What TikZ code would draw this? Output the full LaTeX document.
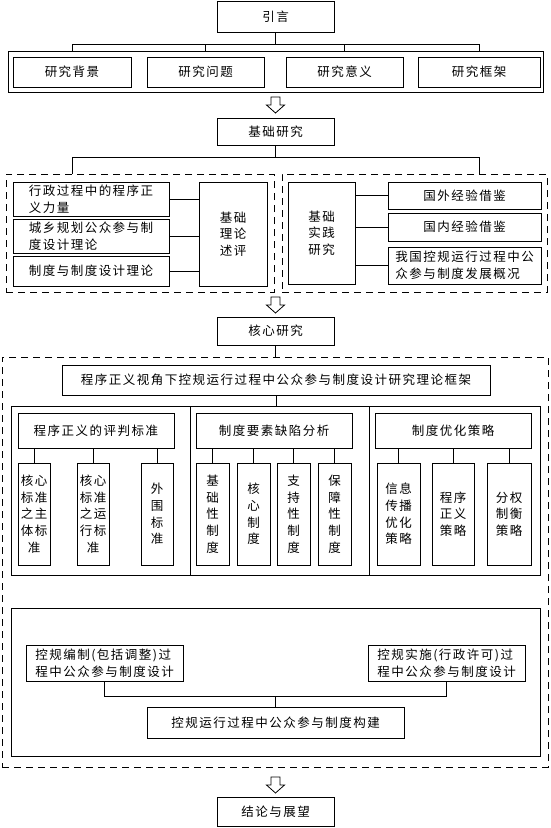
\documentclass[tikz,border=0pt]{standalone}
\usepackage{fontspec}
\usepackage{tikz}
\newfontfamily\cjkfont[LetterSpace=12]{Noto Sans CJK SC}

\begin{document}
\begin{tikzpicture}[x=1pt, y=-1pt,
  box/.style={draw, line width=0.8pt, inner sep=0pt, align=center, font=\cjkfont\fontsize{12.5}{16.7}\selectfont},
  lbox/.style={box, align=left},
  sz/.style 2 args={minimum width=#1pt, minimum height=#2pt},
  dbox/.style={draw, dash pattern=on 7pt off 5pt, line width=0.8pt, inner sep=0pt},
  link/.style={line width=0.8pt}]
\useasboundingbox (0,0) rectangle (550,828);
\node[box, sz={117}{31}] (intro) at (275.5,16.5) {引言};
\node[box, sz={535}{41}] (row) at (275.5,71.5) {};
\node[box, sz={118}{30}] (bkg) at (72,72) {研究背景};
\node[box, sz={117}{30}] (question) at (205.5,72) {研究问题};
\node[box, sz={117}{30}] (meaning) at (344.5,72) {研究意义};
\node[box, sz={122}{30}] (outline) at (479,72) {研究框架};
\coordinate (bus1) at (275.5,44);
\draw[link] (intro.south) -- (bus1);
\draw[link] (bkg.north |- bus1) -- (outline.north |- bus1);
\foreach \n in {bkg,question,meaning,outline}
  \draw[link] (\n.north |- bus1) -- (\n.north |- row.north);
\foreach \y in {97,297,777}
  \draw[link] (271,\y) -- (271,\y+8) -- (266.5,\y+8) -- (275.5,\y+16) -- (284.5,\y+8) -- (280,\y+8) -- (280,\y) -- cycle;
\node[box, sz={117}{27}] (basic) at (275.5,131.5) {基础研究};
\node[dbox, sz={268}{118}] (thgrp) at (140,233) {};
\node[dbox, sz={265}{118}] (prgrp) at (414.5,233) {};
\coordinate (bus2) at (275.5,157);
\draw[link] (basic.south) -- (bus2);
\draw[link] (bkg.north |- thgrp.north) -- (bkg.north |- bus2) -- (outline.north |- bus2) -- (outline.north |- prgrp.north);
\node[lbox, sz={156}{34}] (th1) at (91,199) {行政过程中的程序正\\义力量};
\node[lbox, sz={156}{34}] (th2) at (91,236) {城乡规划公众参与制\\度设计理论};
\node[box, sz={156}{30}] (th3) at (91,271) {制度与制度设计理论};
\node[box, sz={68}{104}] (theory) at (233,234) {基础\\理论\\述评};
\foreach \n in {th1,th2,th3}
  \draw[link] (\n.east) -- (\n.east -| theory.west);
\node[box, sz={67}{102}] (practice) at (321.5,233) {基础\\实践\\研究};
\node[box, sz={153}{27}] (pr1) at (464.5,195.5) {国外经验借鉴};
\node[box, sz={153}{28}] (pr2) at (464.5,227) {国内经验借鉴};
\node[lbox, sz={153}{37}] (pr3) at (464.5,265.5) {我国控规运行过程中公\\众参与制度发展概况};
\foreach \n in {pr1,pr2,pr3}
  \draw[link] (\n.west) -- (\n.west -| practice.east);
\node[box, sz={117}{28}] (core) at (275.5,331) {核心研究};
\node[dbox, sz={546}{410}] (coregrp) at (275,562) {};
\draw[link] (core.south) -- (core.south |- coregrp.north);
\node[box, sz={428}{30}] (tframe) at (276,380) {程序正义视角下控规运行过程中公众参与制度设计研究理论框架};
\node[box, sz={529}{169}] (panels) at (275.5,490.5) {};
\draw[link] (tframe.south) -- (tframe.south |- panels.north);
\draw[link] (190,406) -- (190,575);
\draw[link] (369,406) -- (369,575);
\node[box, sz={156}{35}] (crit) at (96,430.5) {程序正义的评判标准};
\node[box, sz={156}{35}] (elem) at (274,430.5) {制度要素缺陷分析};
\node[box, sz={156}{35}] (optim) at (453,430.5) {制度优化策略};
\node[box, sz={32}{102}] (c1) at (34,514) {核心\\标准\\之主\\体标\\准};
\node[box, sz={32}{102}] (c2) at (93,514) {核心\\标准\\之运\\行标\\准};
\node[box, sz={32}{102}] (c3) at (157,514) {外\\围\\标\\准};
\node[box, sz={33}{102}] (e1) at (212.5,514) {基\\础\\性\\制\\度};
\node[box, sz={33}{102}] (e2) at (253.5,514) {核\\心\\制\\度};
\node[box, sz={33}{102}] (e3) at (293.5,514) {支\\持\\性\\制\\度};
\node[box, sz={33}{102}] (e4) at (334.5,514) {保\\障\\性\\制\\度};
\node[box, sz={43}{102}] (o1) at (398.5,514) {信息\\传播\\优化\\策略};
\node[box, sz={42}{102}] (o2) at (453,514) {程序\\正义\\策略};
\node[box, sz={44}{102}] (o3) at (509,514) {分权\\制衡\\策略};
\foreach \n in {c1,c2,c3}
  \draw[link] (\n.north |- crit.south) -- (\n.north);
\foreach \n in {e1,e2,e3,e4}
  \draw[link] (\n.north |- elem.south) -- (\n.north);
\foreach \n in {o1,o2,o3}
  \draw[link] (\n.north |- optim.south) -- (\n.north);
\node[box, sz={529}{148}] (design) at (275.5,682) {};
\node[lbox, sz={157}{36}] (plan) at (104.5,663) {控规编制(包括调整)过\\程中公众参与制度设计};
\node[lbox, sz={157}{36}] (permit) at (446.5,663) {控规实施(行政许可)过\\程中公众参与制度设计};
\node[box, sz={257}{31}] (build) at (275.5,722.5) {控规运行过程中公众参与制度构建};
\coordinate (bus3) at (275.5,696);
\draw[link] (plan.south) -- (plan.south |- bus3) -- (permit.south |- bus3) -- (permit.south);
\draw[link] (build.north |- bus3) -- (build.north);
\node[box, sz={117}{29}] (concl) at (275.5,811.5) {结论与展望};
\end{tikzpicture}
\end{document}
